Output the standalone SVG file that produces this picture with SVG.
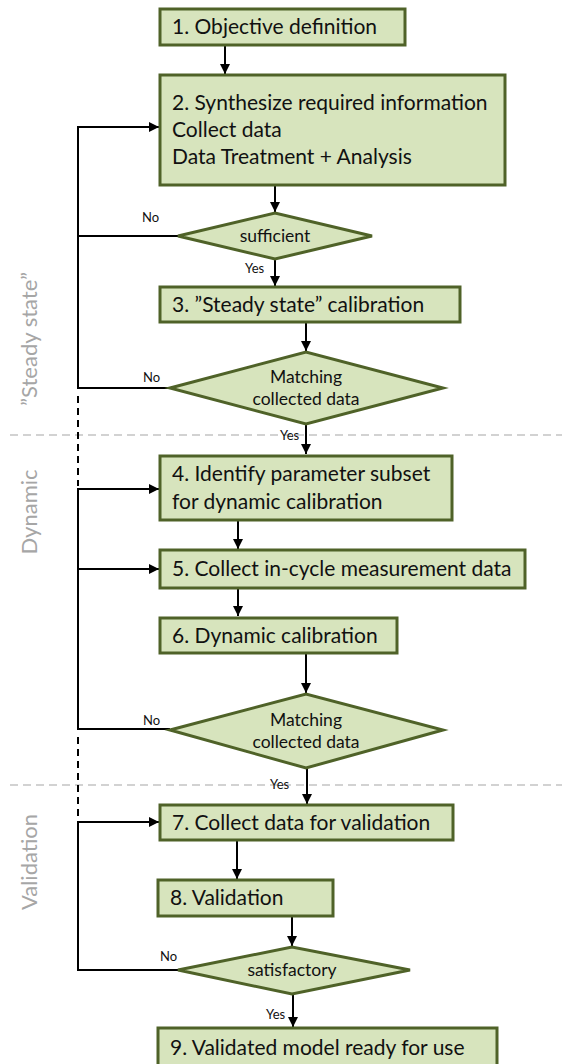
<svg xmlns="http://www.w3.org/2000/svg" width="562" height="1064" viewBox="0 0 562 1064">
  <style>
    .box { fill: #d7e4bd; stroke: #4f6228; stroke-width: 3; }
    .t { font-family: Lato, "Open Sans", sans-serif; font-size: 21px; fill: #111; }
    .dt { font-family: Lato, "Open Sans", sans-serif; font-size: 17.5px; fill: #111; text-anchor: middle; }
    .lbl { font-family: Lato, "Open Sans", sans-serif; font-size: 13px; fill: #111; }
    .side { font-family: Lato, "Open Sans", sans-serif; font-size: 22px; fill: #a6a6a6; text-anchor: middle; }
    .ln { fill: none; stroke: #000; stroke-width: 2; }
    .dash { fill: none; stroke: #000; stroke-width: 2; stroke-dasharray: 7 5; }
    .sep { fill: none; stroke: #a6a6a6; stroke-width: 1.2; stroke-dasharray: 8 5; }
  </style>
  <defs>
    <marker id="ah" viewBox="0 0 10 10" refX="10" refY="5" markerWidth="5" markerHeight="5" orient="auto" markerUnits="strokeWidth">
      <path d="M0,0 L10,5 L0,10 z" fill="#000"/>
    </marker>
  </defs>
  <rect width="562" height="1064" fill="#fff"/>

  <!-- phase separators and phase names -->
  <g id="phases">
    <line class="sep" x1="10" y1="435" x2="562" y2="435"/>
    <line class="sep" x1="10" y1="785" x2="562" y2="785"/>
    <text class="side" transform="translate(37,339) rotate(-90)">”Steady state”</text>
    <text class="side" transform="translate(37,512) rotate(-90)">Dynamic</text>
    <text class="side" transform="translate(37,862) rotate(-90)">Validation</text>
  </g>

  <!-- connectors -->
  <g id="connectors">
    <line class="ln" x1="225" y1="46" x2="225" y2="74" marker-end="url(#ah)"/>
    <line class="ln" x1="275" y1="186" x2="275" y2="212" marker-end="url(#ah)"/>
    <line class="ln" x1="275" y1="259" x2="275" y2="286" marker-end="url(#ah)"/>
    <line class="ln" x1="306" y1="323" x2="306" y2="351" marker-end="url(#ah)"/>
    <line class="ln" x1="306" y1="424" x2="306" y2="454" marker-end="url(#ah)"/>
    <line class="ln" x1="238" y1="521" x2="238" y2="549" marker-end="url(#ah)"/>
    <line class="ln" x1="238" y1="589" x2="238" y2="616" marker-end="url(#ah)"/>
    <line class="ln" x1="306" y1="654" x2="306" y2="693" marker-end="url(#ah)"/>
    <line class="ln" x1="307" y1="768" x2="307" y2="804" marker-end="url(#ah)"/>
    <line class="ln" x1="237" y1="841" x2="237" y2="879" marker-end="url(#ah)"/>
    <line class="ln" x1="292" y1="917" x2="292" y2="946" marker-end="url(#ah)"/>
    <line class="ln" x1="293" y1="994" x2="293" y2="1027" marker-end="url(#ah)"/>

    <!-- feedback loop: steady state -->
    <polyline class="ln" points="178,236 78,236"/>
    <polyline class="ln" points="170,388 78,388 78,127 159,127" marker-end="url(#ah)"/>
    <line class="dash" x1="78" y1="396" x2="78" y2="486"/>

    <!-- feedback loop: dynamic -->
    <polyline class="ln" points="170,729 78,729 78,489 159,489" marker-end="url(#ah)"/>
    <line class="ln" x1="78" y1="569" x2="159" y2="569" marker-end="url(#ah)"/>
    <line class="dash" x1="78" y1="737" x2="78" y2="818"/>

    <!-- feedback loop: validation -->
    <polyline class="ln" points="178,970 78,970 78,822 159,822" marker-end="url(#ah)"/>

    <text class="lbl" x="142" y="222">No</text>
    <text class="lbl" x="143" y="382">No</text>
    <text class="lbl" x="143" y="725">No</text>
    <text class="lbl" x="160" y="961">No</text>
    <text class="lbl" x="245" y="273">Yes</text>
    <text class="lbl" x="280" y="440">Yes</text>
    <text class="lbl" x="270" y="789">Yes</text>
    <text class="lbl" x="266" y="1019">Yes</text>
  </g>

  <g id="n1">
    <rect class="box" x="160" y="9" width="245" height="36"/>
    <text class="t" x="172" y="34">1. Objective definition</text>
  </g>
  <g id="n2">
    <rect class="box" x="160" y="75" width="345" height="110"/>
    <text class="t" x="172" y="110">2. Synthesize required information</text>
    <text class="t" x="172" y="137">Collect data</text>
    <text class="t" x="172" y="164">Data Treatment + Analysis</text>
  </g>
  <g id="d1">
    <polygon class="box" points="178,236 275,213 372,236 275,259"/>
    <text class="dt" x="275" y="242">sufficient</text>
  </g>
  <g id="n3">
    <rect class="box" x="160" y="287" width="300" height="35"/>
    <text class="t" x="172" y="312">3. ”Steady state” calibration</text>
  </g>
  <g id="d2">
    <polygon class="box" points="170,388 306,352 443,388 306,424"/>
    <text class="dt" x="306" y="383">Matching</text>
    <text class="dt" x="306" y="405">collected data</text>
  </g>
  <g id="n4">
    <rect class="box" x="160" y="456" width="292" height="64"/>
    <text class="t" x="172" y="481">4. Identify parameter subset</text>
    <text class="t" x="172" y="509">for dynamic calibration</text>
  </g>
  <g id="n5">
    <rect class="box" x="160" y="550" width="365" height="38"/>
    <text class="t" x="172" y="576">5. Collect in-cycle measurement data</text>
  </g>
  <g id="n6">
    <rect class="box" x="160" y="618" width="237" height="35"/>
    <text class="t" x="172" y="643">6. Dynamic calibration</text>
  </g>
  <g id="d3">
    <polygon class="box" points="170,730 306,694 443,730 306,768"/>
    <text class="dt" x="306" y="726">Matching</text>
    <text class="dt" x="306" y="748">collected data</text>
  </g>
  <g id="n7">
    <rect class="box" x="160" y="805" width="293" height="35"/>
    <text class="t" x="172" y="830">7. Collect data for validation</text>
  </g>
  <g id="n8">
    <rect class="box" x="158" y="880" width="175" height="36"/>
    <text class="t" x="170" y="905">8. Validation</text>
  </g>
  <g id="d4">
    <polygon class="box" points="178,970 292,947 410,970 292,994"/>
    <text class="dt" x="292" y="976">satisfactory</text>
  </g>
  <g id="n9">
    <rect class="box" x="158" y="1028" width="339" height="40"/>
    <text class="t" x="170" y="1055">9. Validated model ready for use</text>
  </g>
</svg>
